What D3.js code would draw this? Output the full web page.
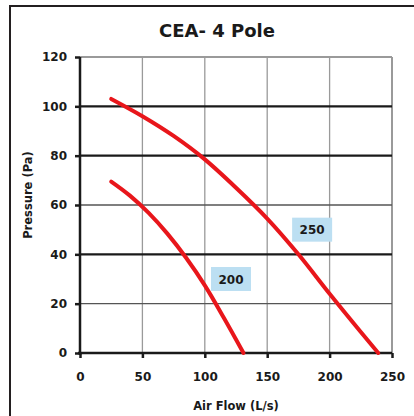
<!DOCTYPE html>
<meta charset="utf-8">
<head>
  <script src="https://d3js.org/d3.v7.min.js"></script>
  <style>
    body { margin: 0; background: #fff; }
    text { font-family: "DejaVu Sans", sans-serif; font-weight: bold; fill: #1a1a1a; }
  </style>
</head>
<body>
<div id="my_dataviz"></div>
<script>
// data
var flow250 = [25, 50, 75, 100, 125, 150, 175, 200, 225, 239];
var press250 = [103, 96, 88, 78.5, 67, 54.5, 40, 24, 8.5, 0];
var flow200 = [25, 40, 55, 70, 85, 100, 115, 131];
var press200 = [69.5, 63.8, 56.8, 48.4, 38.6, 27.4, 14.5, 0];
var xTicks = [0, 50, 100, 150, 200, 250];
var yTicks = [0, 20, 40, 60, 80, 100, 120];
var curveNames = ["250", "200"];
var labelPos = [[186, 50], [121, 30]];

var W = 414, H = 416;
var margin = {top: 57, left: 80},
    width = 312,
    height = 296;

var svg = d3.select("#my_dataviz")
  .append("svg")
    .attr("width", W)
    .attr("height", H);

// outer frame (cropped on the right and bottom)
svg.append("rect")
  .attr("x", 10).attr("y", 6)
  .attr("width", 420).attr("height", 420)
  .attr("fill", "none")
  .attr("stroke", "#231f20")
  .attr("stroke-width", 2);

svg.append("text")
  .attr("x", 217).attr("y", 37)
  .attr("text-anchor", "middle")
  .style("font-size", "18px")
  .text("CEA- 4 Pole");

var g = svg.append("g")
  .attr("transform", "translate(" + margin.left + "," + margin.top + ")");

var x = d3.scaleLinear().domain([0, 250]).range([0, width]);
var y = d3.scaleLinear().domain([0, 120]).range([height, 0]);

// vertical grid
g.selectAll(".vgrid")
  .data(xTicks.slice(1))
  .enter().append("line")
    .attr("x1", function(d) { return x(d); })
    .attr("x2", function(d) { return x(d); })
    .attr("y1", 0).attr("y2", height)
    .attr("stroke", "#9a9a9a")
    .attr("stroke-width", function(d) { return d == 250 ? 2 : 1.3; });

// horizontal grid
g.selectAll(".hgrid")
  .data(yTicks.slice(1))
  .enter().append("line")
    .attr("x1", 0).attr("x2", width)
    .attr("y1", function(d) { return y(d); })
    .attr("y2", function(d) { return y(d); })
    .attr("stroke", function(d) {
      if (d == 120) return "#9a9a9a";
      if (d == 20 || d == 60) return "#555";
      return "#1a1a1a";
    })
    .attr("stroke-width", function(d) {
      if (d == 20 || d == 60) return 1.4;
      return 2.2;
    });

// axes
var xAxis = g.append("g")
  .attr("transform", "translate(0," + height + ")")
  .call(d3.axisBottom(x).tickValues(xTicks).tickSize(5).tickPadding(14));
var yAxis = g.append("g")
  .call(d3.axisLeft(y).tickValues(yTicks).tickSize(5).tickPadding(8));

[xAxis, yAxis].forEach(function(a) {
  a.selectAll("path, line").attr("stroke", "#1a1a1a").attr("stroke-width", 2.5);
  a.selectAll("text").style("font-size", "12px").attr("fill", "#1a1a1a");
});
yAxis.select(".domain").attr("d", "M0," + (height + 2) + "V0");
xAxis.select(".domain").attr("d", "M-2,0H" + width);

// curves
var line = d3.line()
  .x(function(d) { return x(d[0]); })
  .y(function(d) { return y(d[1]); })
  .curve(d3.curveMonotoneX);

var series = [d3.zip(flow250, press250), d3.zip(flow200, press200)];
g.selectAll(".curve")
  .data(series)
  .enter().append("path")
    .attr("d", line)
    .attr("fill", "none")
    .attr("stroke", "#e8161b")
    .attr("stroke-width", 4)
    .attr("stroke-linecap", "round");

// curve labels
curveNames.forEach(function(n, i) {
  var cx = x(labelPos[i][0]), cy = y(labelPos[i][1]);
  g.append("rect")
    .attr("x", cx - 20).attr("y", cy - 12)
    .attr("width", 40).attr("height", 24)
    .attr("fill", "#bcdff2");
  g.append("text")
    .attr("x", cx).attr("y", cy + 4.5)
    .attr("text-anchor", "middle")
    .style("font-size", "12px")
    .text(n);
});

svg.append("text")
  .attr("x", 236).attr("y", 410)
  .attr("text-anchor", "middle")
  .style("font-size", "11.5px")
  .text("Air Flow  (L/s)");

svg.append("text")
  .attr("transform", "translate(32,195) rotate(-90)")
  .attr("text-anchor", "middle")
  .style("font-size", "11.5px")
  .text("Pressure (Pa)");
</script>
</body>
